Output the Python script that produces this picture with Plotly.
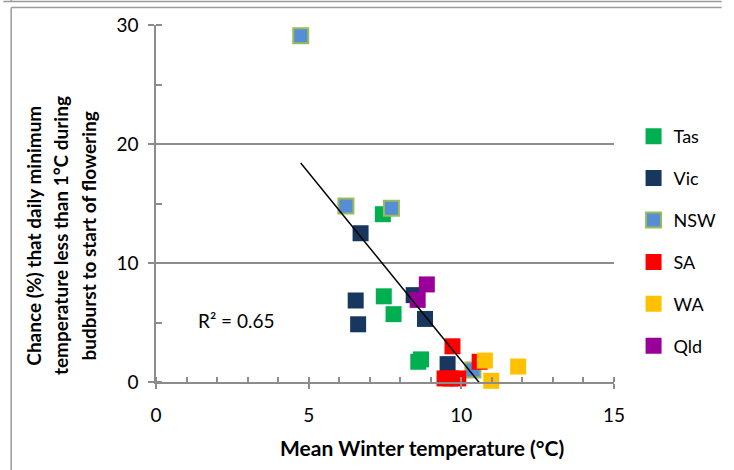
import numpy as np
import plotly.graph_objects as go

# Mean winter temperature (°C) and chance (%) of frost between budburst and flowering, by state
tas_x = [7.43, 7.46, 7.78, 8.59, 8.68]
tas_y = [14.1, 7.2, 5.7, 1.7, 1.9]
vic_x = [6.70, 6.54, 6.62, 8.44, 8.81, 9.55]
vic_y = [12.5, 6.85, 4.85, 7.3, 5.3, 1.5]
nsw_x = [4.74, 6.22, 7.71, 10.38]
nsw_y = [29.1, 14.8, 14.6, 1.0]
sa_x = [9.71, 9.45, 9.65, 9.90, 10.60]
sa_y = [3.0, 0.3, 0.3, 0.3, 1.7]
wa_x = [10.77, 10.98, 11.86]
wa_y = [1.8, 0.1, 1.3]
qld_x = [8.87, 8.57]
qld_y = [8.2, 6.9]

x_ticks = [0, 5, 10, 15]
y_ticks = [0, 10, 20, 30]

FONT = "Lato"

series = [
    ("Tas", tas_x, tas_y, "#00B050", None),
    ("Vic", vic_x, vic_y, "#17375E", None),
    ("NSW", nsw_x, nsw_y, "#558ED5", "#9BBB59"),
    ("SA", sa_x, sa_y, "#FF0000", None),
    ("WA", wa_x, wa_y, "#FFC000", None),
    ("Qld", qld_x, qld_y, "#990099", None),
]

fig = go.Figure()
for name, xs, ys, fill, edge in series:
    fig.add_trace(go.Scatter(
        x=xs, y=ys, mode="markers", name=name, legendgroup=name,
        cliponaxis=False,
        marker=dict(symbol="square", size=15 if edge else 16, color=fill,
                    line=dict(color=edge if edge else fill, width=2 if edge else 0)),
    ))

# Linear trendline over all points
all_x = np.array(tas_x + vic_x + nsw_x + sa_x + wa_x + qld_x)
all_y = np.array(tas_y + vic_y + nsw_y + sa_y + wa_y + qld_y)
slope, intercept = np.polyfit(all_x, all_y, 1)
pred = slope * all_x + intercept
r2 = 1 - np.sum((all_y - pred) ** 2) / np.sum((all_y - all_y.mean()) ** 2)
line_x = np.array([all_x.min(), all_x.max()])
fig.add_trace(go.Scatter(
    x=line_x, y=slope * line_x + intercept, mode="lines", showlegend=False,
    line=dict(color="black", width=1.5),
))

fig.add_annotation(x=2.63, y=5.2, xref="x", yref="y", text=f"R² = {r2:.2f}",
                   showarrow=False, font=dict(family=FONT, size=19, color="black"))

# Layout geometry (plot area 156..624 px wide, 25..382 px tall)
L, R, T, B = 156, 110, 25, 88
W, H = 734, 470
pw, ph = W - L - R, H - T - B


def px(xp):
    return (xp - L) / pw


def py(yp):
    return (H - B - yp) / ph


# Rotated y-axis title, one annotation per line
ylines = ["Chance (%) that daily minimum",
          "temperature less than 1°C during",
          "budburst to start of flowering"]
for i, (txt, xc) in enumerate(zip(ylines, [30, 58, 87])):
    fig.add_annotation(x=px(xc), y=py(236), xref="paper", yref="paper", text=f"<b>{txt}</b>",
                       textangle=-90, showarrow=False, xanchor="center", yanchor="middle",
                       font=dict(family=FONT, size=19, color="black"))

fig.add_annotation(x=px(428), y=py(447), xref="paper", yref="paper",
                   text="<b>Mean Winter temperature (°C)</b>", showarrow=False,
                   xanchor="center", yanchor="middle",
                   font=dict(family=FONT, size=21, color="black"))

# Frame lines around the chart
frame = dict(color="#9A9A9A", width=1.5)
fig.add_shape(type="line", xref="paper", yref="paper", x0=px(0), x1=px(734), y0=py(1.5), y1=py(1.5), line=frame)
fig.add_shape(type="line", xref="paper", yref="paper", x0=px(8), x1=px(8), y0=py(0), y1=py(1.5), line=frame)
fig.add_shape(type="line", xref="paper", yref="paper", x0=px(8), x1=px(734), y0=py(7.5), y1=py(7.5), line=frame)
fig.add_shape(type="line", xref="paper", yref="paper", x0=px(8), x1=px(8), y0=py(7.5), y1=py(470), line=frame)

axis_col = "#8C8C8C"
fig.update_xaxes(range=[0, 15], tickvals=x_ticks, showgrid=False, zeroline=False,
                 showline=True, linecolor=axis_col, linewidth=1.5,
                 ticks="outside", ticklen=5, tickwidth=1.5, tickcolor=axis_col,
                 ticklabelstandoff=10,
                 minor=dict(dtick=1, ticks="inside", ticklen=5, tickwidth=1.5,
                            tickcolor=axis_col, showgrid=False),
                 tickfont=dict(family=FONT, size=19, color="black"))
fig.update_yaxes(range=[0, 30], tickvals=y_ticks, showgrid=True, gridcolor=axis_col,
                 gridwidth=1.5, zeroline=False,
                 showline=True, linecolor=axis_col, linewidth=1.5,
                 ticks="outside", ticklen=6, tickwidth=1.5, tickcolor=axis_col,
                 ticklabelstandoff=6,
                 minor=dict(dtick=5, ticks="inside", ticklen=6, tickwidth=1.5,
                            tickcolor=axis_col, showgrid=False),
                 tickfont=dict(family=FONT, size=19, color="black"))

fig.update_layout(
    width=W, height=H, margin=dict(l=L, r=R, t=T, b=B),
    paper_bgcolor="white", plot_bgcolor="white",
    showlegend=True,
    legend=dict(x=px(644), y=py(118), xanchor="left", yanchor="top",
                font=dict(family=FONT, size=18, color="black"),
                tracegroupgap=15.5, itemwidth=30, bgcolor="rgba(0,0,0,0)"),
)

fig.write_html("out.html")
